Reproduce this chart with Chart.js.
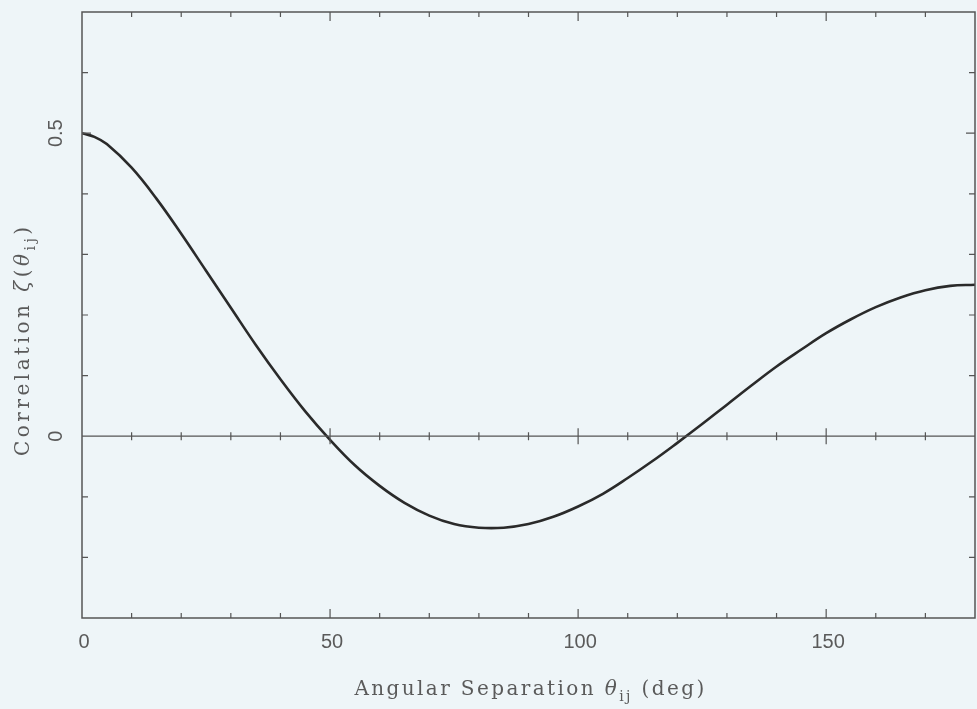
<!DOCTYPE html>
<html>
<head>
<meta charset="utf-8">
<script src="https://cdn.jsdelivr.net/npm/chart.js@4"></script>
<style>
  html, body { margin: 0; padding: 0; background: #eef5f8; }
  #wrap { width: 977px; height: 709px; }
</style>
</head>
<body>
<div id="wrap"><canvas id="hd"></canvas></div>
<script>
// angular separation (deg) and correlation
const angles = [0, 2.5, 5, 10, 15, 20, 25, 30, 35, 40, 45, 50, 55, 60, 65, 70, 75, 80, 85, 90,
  95, 100, 105, 110, 115, 120, 125, 130, 135, 140, 145, 150, 155, 160, 165, 170, 175, 180];
const correlation = [0.500, 0.494, 0.482, 0.443, 0.392, 0.334, 0.273, 0.212, 0.151, 0.094, 0.041,
  -0.006, -0.048, -0.082, -0.110, -0.131, -0.145, -0.151, -0.151, -0.145,
  -0.133, -0.116, -0.095, -0.069, -0.041, -0.011, 0.020, 0.052, 0.084, 0.115,
  0.143, 0.170, 0.193, 0.213, 0.229, 0.241, 0.248, 0.250];
const xTickLabels = [0, 50, 100, 150];
const yTickLabels = [0, 0.5];

const ink = '#555';
const labelFont = '20px "Liberation Sans", sans-serif';
const titleFont = '20px "DejaVu Serif", serif';
const italFont = 'italic 20px "DejaVu Serif", serif';
const subFont = '14px "DejaVu Serif", serif';

// frame, inward ticks, zero line and labels, all placed through the scales
const decorations = {
  id: 'decorations',
  afterDraw(chart) {
    const ctx = chart.ctx;
    const a = chart.chartArea;
    const x = chart.scales.x, y = chart.scales.y;
    ctx.save();
    ctx.strokeStyle = ink;
    ctx.lineWidth = 1.5;
    ctx.strokeRect(a.left, a.top, a.right - a.left, a.bottom - a.top);

    const y0 = y.getPixelForValue(0);
    ctx.beginPath();
    ctx.moveTo(a.left, y0); ctx.lineTo(a.right, y0);
    ctx.lineWidth = 1.3;
    ctx.stroke();

    ctx.lineWidth = 1.2;
    ctx.beginPath();
    for (let v = 10; v < 180; v += 10) {
      const px = x.getPixelForValue(v);
      const major = v % 50 === 0;
      const len = major ? 9 : 5;
      ctx.moveTo(px, a.top); ctx.lineTo(px, a.top + len);
      ctx.moveTo(px, a.bottom); ctx.lineTo(px, a.bottom - len);
      ctx.moveTo(px, y0 - (major ? 8 : 4)); ctx.lineTo(px, y0 + (major ? 8 : 4));
    }
    for (let k = -2; k <= 6; k++) {
      if (k === 0) continue;
      const py = y.getPixelForValue(k / 10);
      const len = k === 5 ? 9 : 6;
      ctx.moveTo(a.left, py); ctx.lineTo(a.left + len, py);
      ctx.moveTo(a.right, py); ctx.lineTo(a.right - len, py);
    }
    ctx.stroke();

    ctx.fillStyle = '#5a5a5a';
    ctx.font = labelFont;
    ctx.textAlign = 'center';
    ctx.textBaseline = 'middle';
    xTickLabels.forEach(v => ctx.fillText(String(v), x.getPixelForValue(v) + 2, a.bottom + 24));
    yTickLabels.forEach(v => {
      ctx.save();
      ctx.translate(a.left - 26, y.getPixelForValue(v));
      ctx.rotate(-Math.PI / 2);
      ctx.fillText(String(v), 0, 0);
      ctx.restore();
    });

    // axis titles with subscripts
    const drawTitle = (parts, cx, cy, rot, spacing) => {
      ctx.save();
      ctx.translate(cx, cy);
      ctx.rotate(rot);
      ctx.textAlign = 'left';
      ctx.textBaseline = 'alphabetic';
      ctx.letterSpacing = spacing;
      let w = 0;
      parts.forEach(p => { ctx.font = p.font; w += ctx.measureText(p.t).width; });
      let cur = -w / 2;
      parts.forEach(p => {
        ctx.font = p.font;
        ctx.fillText(p.t, cur, 7 + (p.dy || 0));
        cur += ctx.measureText(p.t).width;
      });
      ctx.restore();
    };
    drawTitle([
      { t: 'Angular Separation ', font: titleFont },
      { t: 'θ', font: italFont },
      { t: 'ij', font: subFont, dy: 6 },
      { t: ' (deg)', font: titleFont }
    ], (a.left + a.right) / 2 + 2, a.bottom + 70, 0, '2.4px');
    drawTitle([
      { t: 'Correlation ', font: titleFont },
      { t: 'ζ', font: italFont },
      { t: '(', font: titleFont },
      { t: 'θ', font: italFont },
      { t: 'ij', font: subFont, dy: 6 },
      { t: ')', font: titleFont }
    ], a.left - 60, (y.getPixelForValue(0) + y.getPixelForValue(0.5)) / 2 + 55, -Math.PI / 2, '3.5px');
    ctx.restore();
  }
};

new Chart(document.getElementById('hd'), {
  type: 'line',
  data: {
    datasets: [{
      label: 'Hellings-Downs correlation',
      data: angles.map((a, i) => ({ x: a, y: correlation[i] })),
      borderColor: '#2a2a2a',
      borderWidth: 2.6,
      pointRadius: 0,
      tension: 0.4,
      fill: false
    }]
  },
  options: {
    responsive: true,
    maintainAspectRatio: false,
    animation: false,
    layout: { padding: { left: 82, right: 2, top: 12, bottom: 91 } },
    plugins: { legend: { display: false }, tooltip: { enabled: false } },
    scales: {
      x: { type: 'linear', min: 0, max: 180, display: false },
      y: { type: 'linear', min: -0.3, max: 0.7, display: false }
    }
  },
  plugins: [decorations]
});
</script>
</body>
</html>
